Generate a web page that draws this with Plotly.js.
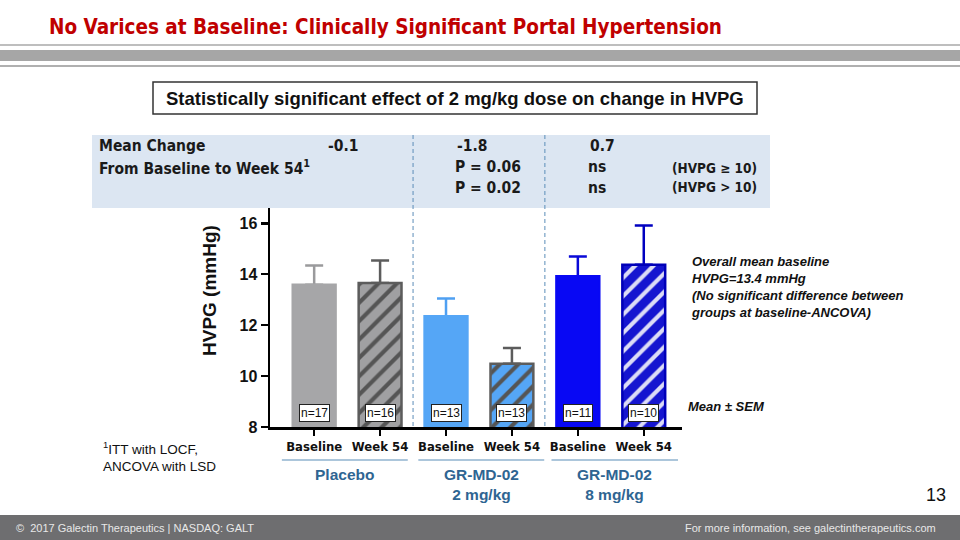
<!DOCTYPE html>
<html>
<head>
<meta charset="utf-8">
<script src="https://cdn.plot.ly/plotly-3.0.1.min.js"></script>
<style>html,body{margin:0;padding:0;background:#fff;}#chart{width:960px;height:540px;}</style>
</head>
<body>
<div id="chart"></div>
<script>
// ---- data ----
const barLabels = ['Baseline', 'Week 54', 'Baseline', 'Week 54', 'Baseline', 'Week 54'];
const meanHVPG = [13.59, 13.65, 12.35, 10.48, 13.92, 14.37];
const semHVPG = [0.75, 0.89, 0.70, 0.62, 0.78, 1.54];
const nLabels = ['n=17', 'n=16', 'n=13', 'n=13', 'n=11', 'n=10'];
const groupNames = ['Placebo', 'GR-MD-02<br>2 mg/kg', 'GR-MD-02<br>8 mg/kg'];
const yTicks = [8, 10, 12, 14, 16];
const meanChange = ['-0.1', '-1.8', '0.7'];
const pHVPGge10 = ['', 'P = 0.06', 'ns'];
const pHVPGgt10 = ['', 'P = 0.02', 'ns'];

// ---- styles ----
const COND = '"Liberation Sans Narrow", "DejaVu Sans Condensed", Arial, sans-serif';
const ARIAL = '"Liberation Sans", Arial, sans-serif';
const barStyle = [
  {fill: '#a6a6a8', line: '#a6a6a8', err: '#9a9a9c', pattern: null},
  {fill: '#a0a0a2', line: '#5c5c5c', err: '#5c5c5c', pattern: {fg: '#555555'}},
  {fill: '#55a6f6', line: '#55a6f6', err: '#4fa0f2', pattern: null},
  {fill: '#55a6f6', line: '#5c5c5c', err: '#5c5c5c', pattern: {fg: '#555555'}},
  {fill: '#0808f4', line: '#0808f4', err: '#0a0ad8', pattern: null},
  {fill: '#1515d0', line: '#0000b8', err: '#0000c0', pattern: {fg: '#dcdcf6'}}
];

const W = 960, H = 540;
const px = v => v / W;
const py = v => 1 - v / H;

// error bars first (invisible bars), so the visible bars drawn later hide the lower caps
const errTraces = meanHVPG.map((m, i) => ({
  type: 'bar', x: [i], y: [m], width: 0.65,
  marker: {color: 'rgba(0,0,0,0)', line: {width: 0}},
  error_y: {type: 'data', symmetric: false, array: [semHVPG[i]], arrayminus: [0], color: barStyle[i].err, thickness: 2.5, width: 9},
  hoverinfo: 'skip', showlegend: false
}));
const barTraces = meanHVPG.map((m, i) => {
  const s = barStyle[i];
  const marker = {color: s.fill, line: {color: s.line, width: 2.5}};
  if (s.pattern) {
    marker.pattern = {shape: '/', fgcolor: s.pattern.fg, bgcolor: s.fill, size: 13, solidity: 0.32, fillmode: 'replace'};
  }
  return {type: 'bar', x: [i], y: [m], width: 0.65, marker: marker, hoverinfo: 'skip', showlegend: false};
});

const annotations = [];
const shapes = [];

// header
shapes.push({type: 'line', xref: 'paper', yref: 'paper', x0: 0, x1: 1, y0: py(45), y1: py(45), line: {color: '#a8a8a8', width: 1.5}});
shapes.push({type: 'rect', xref: 'paper', yref: 'paper', x0: 0, x1: 1, y0: py(50), y1: py(61), fillcolor: '#a6a6a6', line: {width: 0}});
shapes.push({type: 'line', xref: 'paper', yref: 'paper', x0: 0, x1: 1, y0: py(66), y1: py(66), line: {color: '#b0b0b0', width: 2}});
annotations.push({xref: 'paper', yref: 'paper', x: px(47), y: py(27), xanchor: 'left', yanchor: 'middle', showarrow: false,
  text: 'No Varices at Baseline: Clinically Significant Portal Hypertension',
  font: {family: COND, size: 20.5, color: '#c00000', weight: 'bold'}});

// statement box
shapes.push({type: 'rect', xref: 'paper', yref: 'paper', x0: px(153), x1: px(757), y0: py(82), y1: py(114), fillcolor: '#ffffff', line: {color: '#333333', width: 1.5}});
annotations.push({xref: 'paper', yref: 'paper', x: px(455), y: py(98.5), xanchor: 'center', yanchor: 'middle', showarrow: false,
  text: 'Statistically significant effect of 2 mg/kg dose on change in HVPG',
  font: {family: ARIAL, size: 18.5, color: '#111111', weight: 'bold'}});

// blue table box
shapes.push({type: 'rect', xref: 'paper', yref: 'paper', x0: px(92), x1: px(770), y0: py(135), y1: py(208), fillcolor: '#dce6f2', line: {width: 0}, layer: 'below'});
// dashed separators (between groups)
[1.5, 3.5].forEach(xv => {
  shapes.push({type: 'line', xref: 'x', yref: 'paper', x0: xv, x1: xv, y0: py(135), y1: py(427), line: {color: '#5b8db8', width: 1, dash: '4px,3px'}});
});

const tFont = {family: COND, size: 15.5, color: '#1a1a1a', weight: 'bold'};
annotations.push({xref: 'paper', yref: 'paper', x: px(97), y: py(146), xanchor: 'left', yanchor: 'middle', showarrow: false, text: 'Mean Change', font: tFont});
annotations.push({xref: 'paper', yref: 'paper', x: px(97), y: py(167), xanchor: 'left', yanchor: 'middle', showarrow: false, text: 'From Baseline to Week 54<sup>1</sup>', font: tFont});
const colX = [326, 455, 588];
meanChange.forEach((t, i) => {
  annotations.push({xref: 'paper', yref: 'paper', x: px(colX[i]), y: py(146), xanchor: 'left', yanchor: 'middle', showarrow: false, text: t, font: tFont});
});
pHVPGge10.forEach((t, i) => {
  if (t) annotations.push({xref: 'paper', yref: 'paper', x: px(colX[i] - 2), y: py(167), xanchor: 'left', yanchor: 'middle', showarrow: false, text: t, font: tFont});
});
pHVPGgt10.forEach((t, i) => {
  if (t) annotations.push({xref: 'paper', yref: 'paper', x: px(colX[i] - 2), y: py(188), xanchor: 'left', yanchor: 'middle', showarrow: false, text: t, font: tFont});
});
const sFont = {family: COND, size: 13.5, color: '#1a1a1a', weight: 'bold'};
annotations.push({xref: 'paper', yref: 'paper', x: px(670), y: py(168), xanchor: 'left', yanchor: 'middle', showarrow: false, text: '(HVPG ≥ 10)', font: sFont});
annotations.push({xref: 'paper', yref: 'paper', x: px(670), y: py(187), xanchor: 'left', yanchor: 'middle', showarrow: false, text: '(HVPG > 10)', font: sFont});

// y-axis title
annotations.push({xref: 'paper', yref: 'paper', x: px(209), y: py(291), xanchor: 'center', yanchor: 'middle', showarrow: false, textangle: -90,
  text: 'HVPG (mmHg)', font: {family: ARIAL, size: 19, color: '#111111', weight: 'bold'}});

// n labels
nLabels.forEach((t, i) => {
  annotations.push({xref: 'x', yref: 'y', x: i, y: 8.56, xanchor: 'center', yanchor: 'middle', showarrow: false, text: t,
    font: {family: ARIAL, size: 12, color: '#111111'}, bgcolor: '#ffffff', bordercolor: '#222222', borderwidth: 1, borderpad: 1});
});

// group labels with underline
const groupX = [[-0.49, 1.42], [1.58, 3.49], [3.6, 5.52]];
groupNames.forEach((g, k) => {
  shapes.push({type: 'line', xref: 'x', yref: 'paper', x0: groupX[k][0], x1: groupX[k][1], y0: py(460), y1: py(460), line: {color: '#5b8db8', width: 1.2}});
  annotations.push({xref: 'x', yref: 'paper', x: (groupX[k][0] + groupX[k][1]) / 2, y: py(464), xanchor: 'center', yanchor: 'top', showarrow: false,
    text: g, font: {family: ARIAL, size: 15.5, color: '#2f6592', weight: 'bold'}});
});

// right side notes
annotations.push({xref: 'paper', yref: 'paper', x: px(689), y: py(252), xanchor: 'left', yanchor: 'top', showarrow: false, align: 'left',
  text: '<i>Overall mean baseline<br>HVPG=13.4 mmHg<br>(No significant difference between<br>groups at baseline-ANCOVA)</i>',
  font: {family: ARIAL, size: 13, color: '#111111', weight: 'bold'}});
annotations.push({xref: 'paper', yref: 'paper', x: px(686), y: py(406), xanchor: 'left', yanchor: 'middle', showarrow: false,
  text: '<i>Mean ± SEM</i>', font: {family: ARIAL, size: 13, color: '#111111', weight: 'bold'}});

// footnote
annotations.push({xref: 'paper', yref: 'paper', x: px(101), y: py(437), xanchor: 'left', yanchor: 'top', showarrow: false, align: 'left',
  text: '<sup>1</sup>ITT with LOCF,<br>ANCOVA with LSD', font: {family: ARIAL, size: 13.5, color: '#111111'}});

// page number
annotations.push({xref: 'paper', yref: 'paper', x: px(948), y: py(495), xanchor: 'right', yanchor: 'middle', showarrow: false,
  text: '13', font: {family: ARIAL, size: 18, color: '#111111'}});

// footer
shapes.push({type: 'rect', xref: 'paper', yref: 'paper', x0: 0, x1: 1, y0: py(515), y1: 0, fillcolor: '#6e6e70', line: {width: 0}});
annotations.push({xref: 'paper', yref: 'paper', x: px(14), y: py(527.5), xanchor: 'left', yanchor: 'middle', showarrow: false,
  text: '©  2017 Galectin Therapeutics | NASDAQ: GALT', font: {family: ARIAL, size: 11, color: '#e8e8e8'}});
annotations.push({xref: 'paper', yref: 'paper', x: px(938), y: py(527.5), xanchor: 'right', yanchor: 'middle', showarrow: false,
  text: 'For more information, see galectintherapeutics.com', font: {family: ARIAL, size: 11, color: '#e8e8e8'}});

const layout = {
  width: W, height: H,
  margin: {l: 0, r: 0, t: 0, b: 0, pad: 0},
  paper_bgcolor: '#ffffff', plot_bgcolor: 'rgba(0,0,0,0)',
  barmode: 'overlay',
  showlegend: false,
  xaxis: {
    domain: [px(270), px(682)],
    range: [-0.67, 5.58],
    tickmode: 'array', tickvals: barLabels.map((_, i) => i), ticktext: barLabels,
    tickangle: 0,
    showline: true, linecolor: '#000000', linewidth: 2.5,
    ticks: 'outside', ticklen: 6, tickwidth: 2.5, tickcolor: '#000000',
    showgrid: false, zeroline: false, fixedrange: true,
    tickfont: {family: COND, size: 13, color: '#111111', weight: 'bold'}
  },
  yaxis: {
    domain: [py(427), py(208)],
    range: [8, 16.6],
    tickmode: 'array', tickvals: yTicks, ticktext: yTicks.map(String),
    showline: true, linecolor: '#000000', linewidth: 2.5,
    ticks: 'outside', ticklen: 7, tickwidth: 2.5, tickcolor: '#000000',
    showgrid: false, zeroline: false, fixedrange: true,
    tickfont: {family: ARIAL, size: 16, color: '#111111', weight: 'bold'}
  },
  shapes: shapes,
  annotations: annotations
};

Plotly.newPlot('chart', errTraces.concat(barTraces), layout, {displayModeBar: false, staticPlot: true});
</script>
</body>
</html>
